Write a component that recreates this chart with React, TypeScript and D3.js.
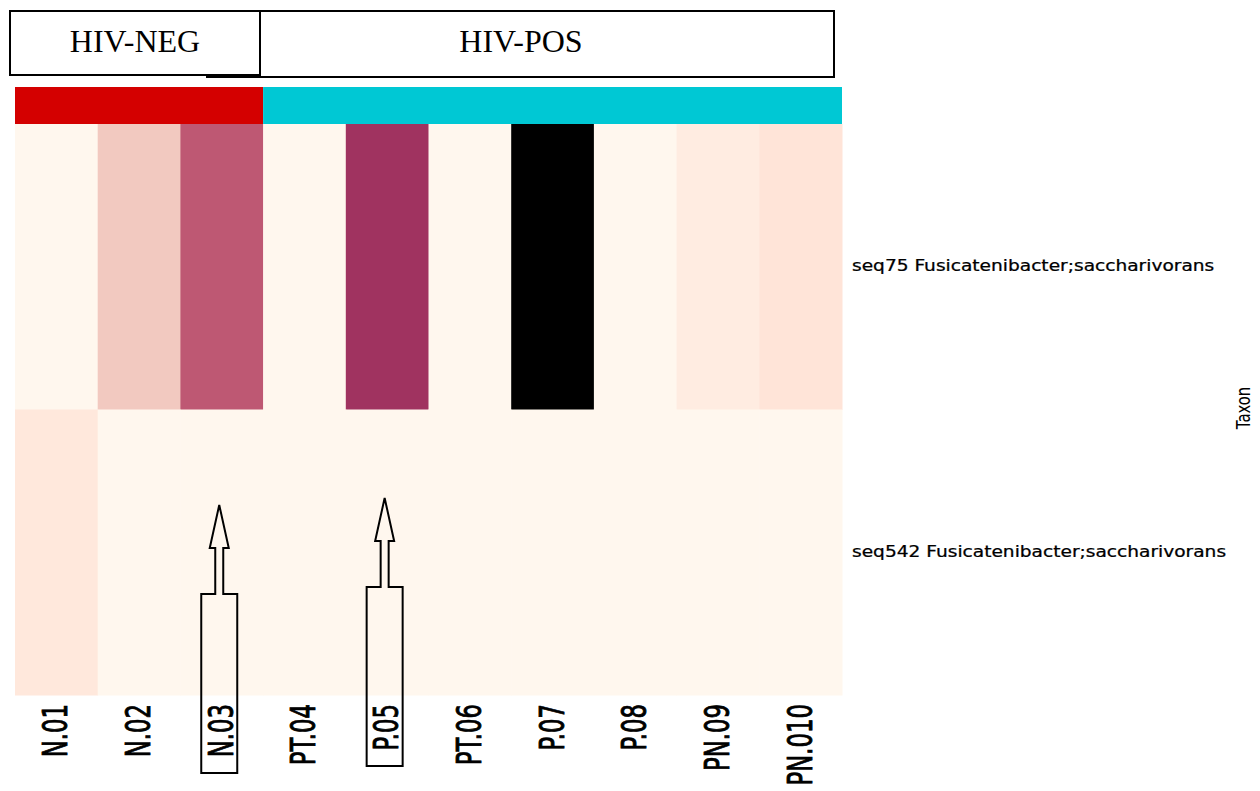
import React from "react";
import * as d3 from "d3";

const samples = ["N.01", "N.02", "N.03", "PT.04", "P.05", "PT.06", "P.07", "P.08", "PN.09", "PN.010"];
const groups = ["HIV-NEG", "HIV-NEG", "HIV-NEG", "HIV-POS", "HIV-POS", "HIV-POS", "HIV-POS", "HIV-POS", "HIV-POS", "HIV-POS"];
const taxa = ["seq75 Fusicatenibacter;saccharivorans", "seq542 Fusicatenibacter;saccharivorans"];
const seq75Values = [0, 0.3, 0.65, 0, 0.8, 0, 1, 0, 0.06, 0.1];
const seq542Values = [0.08, 0, 0, 0, 0, 0, 0, 0, 0, 0];
const colorStops = [0, 0.1, 0.3, 0.65, 0.8, 1];
const colorRange = ["#fff7ee", "#ffe4d8", "#f2c9c0", "#be5873", "#a03360", "#000000"];
const groupNames = ["HIV-NEG", "HIV-POS"];
const groupColors = ["#d40000", "#00c8d4"];
const highlighted = ["N.03", "P.05"];
const highlightShift = [0, -7];

const W = 1260;
const H = 791;

export default function App() {
  const x = d3.scaleBand<string>().domain(samples).range([15, 842]).padding(0);
  const y = d3.scaleBand<string>().domain(taxa).range([124, 695]).padding(0);
  const color = d3.scaleLinear<string>().domain(colorStops).range(colorRange).clamp(true);
  const gColor = d3.scaleOrdinal<string, string>().domain(groupNames).range(groupColors);
  const rows = [seq75Values, seq542Values];
  const bw = x.bandwidth();

  const groupSpans = groupNames.map((g) => {
    const members = samples.filter((_, i) => groups[i] === g);
    const x0 = d3.min(members, (s) => x(s)!)!;
    const x1 = d3.max(members, (s) => x(s)! + bw)!;
    return { g, x0, x1 };
  });

  const arrowPath = (cx: number, dy: number) => {
    const tip = 505 + dy, headBase = 548 + dy, boxTop = 594 + dy, boxBottom = 773 + dy;
    const hw = 9.5, sw = 4, bwid = 18;
    return [
      `M${cx},${tip}`,
      `L${cx + hw},${headBase}`,
      `L${cx + sw},${headBase}`,
      `L${cx + sw},${boxTop}`,
      `L${cx + bwid},${boxTop}`,
      `L${cx + bwid},${boxBottom}`,
      `L${cx - bwid},${boxBottom}`,
      `L${cx - bwid},${boxTop}`,
      `L${cx - sw},${boxTop}`,
      `L${cx - sw},${headBase}`,
      `L${cx - hw},${headBase}`,
      "Z",
    ].join(" ");
  };

  return (
    <svg width={W} height={H} style={{ position: "absolute", left: 0, top: 0, background: "#fff" }}>
      <rect x={0} y={0} width={W} height={H} fill="#ffffff" />
      {/* header boxes */}
      <rect x={207} y={11} width={627} height={66} fill="#ffffff" stroke="#000" strokeWidth={2} />
      <rect x={10} y={11} width={250} height={64} fill="#ffffff" stroke="#000" strokeWidth={2} />
      <text x={135} y={52} textAnchor="middle" fontFamily="'Liberation Serif', 'Times New Roman', serif" fontSize={32} fill="#000">
        {groupNames[0]}
      </text>
      <text x={521} y={52} textAnchor="middle" fontFamily="'Liberation Serif', 'Times New Roman', serif" fontSize={32} fill="#000">
        {groupNames[1]}
      </text>

      {/* group annotation bar */}
      {groupSpans.map((d) => (
        <rect key={"g" + d.g} x={d.x0} y={87} width={d.x1 - d.x0} height={37} fill={gColor(d.g)} />
      ))}

      {/* heatmap cells */}
      {taxa.map((t, r) =>
        samples.map((s, i) => (
          <rect
            key={t + s}
            x={x(s)!}
            y={y(t)!}
            width={bw + 0.5}
            height={y.bandwidth() + 0.5}
            fill={color(rows[r][i])}
          />
        ))
      )}

      {/* row labels */}
      {taxa.map((t) => (
        <text
          key={"rl" + t}
          transform={`translate(852, ${y(t)! + y.bandwidth() / 2}) scale(1.24, 1)`}
          dominantBaseline="middle"
          fontFamily="'DejaVu Sans', sans-serif"
          fontSize={15}
          fill="#000"
          stroke="#000"
          strokeWidth={0.25}
        >
          {t}
        </text>
      ))}
      <text
        transform={`translate(1250, 408) rotate(-90) scale(0.78, 1)`}
        textAnchor="middle"
        fontFamily="'DejaVu Sans', sans-serif"
        fontSize={19}
        fill="#000"
      >
        Taxon
      </text>

      {/* column labels */}
      {samples.map((s) => (
        <text
          key={"cl" + s}
          transform={`translate(${x(s)! + bw / 2 + 11}, 704) rotate(-90) scale(0.69, 1)`}
          textAnchor="end"
          fontFamily="'DejaVu Sans', sans-serif"
          fontSize={33}
          fill="#000"
          stroke="#000"
          strokeWidth={0.9}
        >
          {s}
        </text>
      ))}

      {/* highlight arrows */}
      {highlighted.map((s, i) => (
        <path
          key={"arrow" + s}
          d={arrowPath(x(s)! + bw / 2 - 2.5, highlightShift[i])}
          fill="none"
          stroke="#000"
          strokeWidth={2}
          strokeLinejoin="miter"
        />
      ))}
    </svg>
  );
}
